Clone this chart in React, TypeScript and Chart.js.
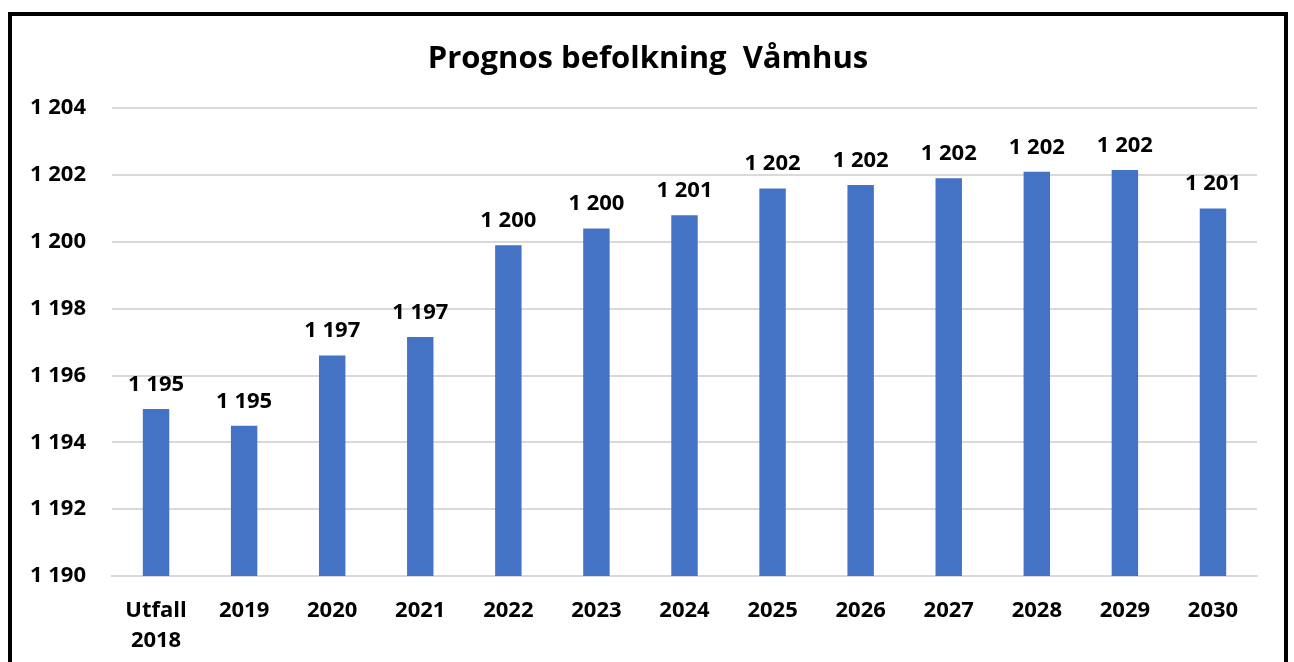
import React, { useEffect, useRef } from "react";
import { Chart, registerables } from "chart.js";

Chart.register(...registerables);

const categories: (string | string[])[] = [
  ["Utfall", "2018"], "2019", "2020", "2021", "2022", "2023", "2024",
  "2025", "2026", "2027", "2028", "2029", "2030",
];
const population: number[] = [
  1195.0, 1194.5, 1196.6, 1197.15, 1199.9, 1200.4, 1200.8,
  1201.6, 1201.7, 1201.9, 1202.1, 1202.15, 1201.0,
];
const valueLabels: string[] = [
  "1 195", "1 195", "1 197", "1 197", "1 200", "1 200", "1 201",
  "1 202", "1 202", "1 202", "1 202", "1 202", "1 201",
];
const yMin = 1190;
const yMax = 1204;
const yStep = 2;

const FONT = "'Open Sans', 'Liberation Sans', sans-serif";

const fmt = (v: number) => {
  const s = Math.round(v).toString();
  return s.replace(/\B(?=(\d{3})+(?!\d))/g, " ");
};

const valueLabelPlugin = {
  id: "valueLabels",
  afterDatasetsDraw(chart: any) {
    const ctx = chart.ctx;
    const meta = chart.getDatasetMeta(0);
    ctx.save();
    ctx.font = `bold 22px ${FONT}`;
    ctx.fillStyle = "#000";
    ctx.textAlign = "center";
    ctx.textBaseline = "alphabetic";
    meta.data.forEach((bar: any, i: number) => {
      ctx.fillText(valueLabels[i], bar.x, bar.y - 18);
    });
    ctx.restore();
  },
};

export default function App() {
  const ref = useRef<HTMLCanvasElement>(null);
  useEffect(() => {
    if (!ref.current) return;
    const chart = new Chart(ref.current, {
      type: "bar",
      data: {
        labels: categories,
        datasets: [
          {
            data: population,
            backgroundColor: "#4472C4",
            barPercentage: 0.3,
            categoryPercentage: 1,
            yAxisID: "y",
          },
        ],
      },
      options: {
        animation: false,
        responsive: false,
        maintainAspectRatio: false,
        layout: { padding: 0 },
        plugins: {
          legend: { display: false },
          tooltip: { enabled: false },
          title: {
            display: true,
            text: "Prognos befolkning  Våmhus",
            color: "#000",
            font: { family: FONT, size: 31, weight: "bold", lineHeight: 1.2 },
            padding: { top: 25, bottom: 30 },
          },
        },
        scales: {
          x: {
            grid: { display: false, drawTicks: false },
            border: { display: true, color: "#d9d9d9", width: 2 },
            ticks: {
              color: "#000",
              font: { family: FONT, size: 22, weight: "bold", lineHeight: 1.4 },
              padding: 19,
              maxRotation: 0,
              autoSkip: false,
            },
            afterFit: (s: any) => {
              s.height = 112;
            },
          },
          y: {
            min: yMin,
            max: yMax,
            grid: { color: "#d9d9d9", lineWidth: 2, drawTicks: false },
            border: { display: false },
            ticks: {
              stepSize: yStep,
              color: "#000",
              font: { family: FONT, size: 22, weight: "bold" },
              padding: 26,
              callback: (v: any) => fmt(Number(v)),
            },
            afterFit: (s: any) => {
              s.width = 100;
            },
          },
          yRightSpacer: {
            type: "linear",
            position: "right",
            min: yMin,
            max: yMax,
            grid: { display: false, drawTicks: false },
            border: { display: false },
            ticks: { display: false },
            afterFit: (s: any) => {
              s.width = 27;
            },
          },
        },
      },
      plugins: [valueLabelPlugin],
    });
    return () => chart.destroy();
  }, []);
  return (
    <div
      style={{
        position: "absolute",
        left: 8,
        top: 12,
        width: 1280,
        height: 680,
        boxSizing: "border-box",
        border: "4px solid #000",
        background: "#fff",
      }}
    >
      <canvas ref={ref} width={1272} height={672} style={{ display: "block" }} />
    </div>
  );
}
